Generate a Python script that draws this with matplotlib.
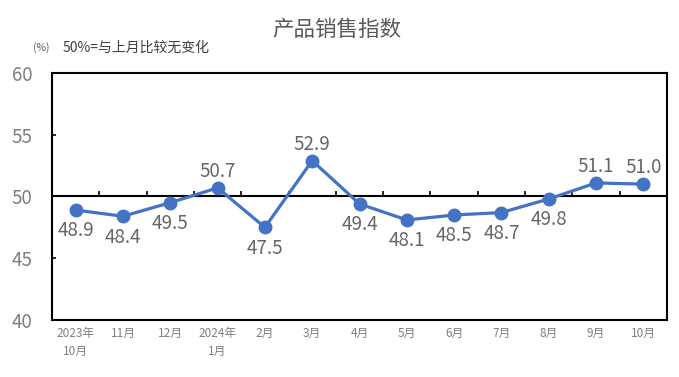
import matplotlib
matplotlib.use("Agg")
import matplotlib.pyplot as plt

plt.rcParams['font.family'] = ['Noto Sans CJK SC', 'DejaVu Sans']

categories = ["2023年\n10月", "11月", "12月", "2024年\n1月", "2月", "3月", "4月",
              "5月", "6月", "7月", "8月", "9月", "10月"]
values = [48.9, 48.4, 49.5, 50.7, 47.5, 52.9, 49.4, 48.1, 48.5, 48.7, 49.8, 51.1, 51.0]
label_above = [False, False, False, True, False, True, False, False, False, False, False, True, True]
yticks = [40, 45, 50, 55, 60]

fig = plt.figure(figsize=(6.79, 3.77), dpi=100)
ax = fig.add_axes([52/679, 1-320/377, 615/679, 247/377])

x = list(range(len(values)))
ax.plot(x, values, color='#4472C4', lw=2.3, marker='o', markersize=9,
        markerfacecolor='#4472C4', markeredgecolor='#4472C4', zorder=3)
ax.axhline(50, color='black', lw=1.5, zorder=2)
# category boundary tick marks on the 50 line
bounds = [i + 0.5 for i in range(len(values) - 1)]
ax.plot(bounds, [50] * len(bounds), linestyle='none', marker=2, markersize=3.5,
        markeredgewidth=1.2, color='black', zorder=2)

for xi, v, up in zip(x, values, label_above):
    if up:
        ax.annotate(f"{v:.1f}", (xi, v), xytext=(0, 12), textcoords='offset points',
                    ha='center', va='center', fontsize=13.5, color='#666666')
    else:
        ax.annotate(f"{v:.1f}", (xi, v), xytext=(0, -15), textcoords='offset points',
                    ha='center', va='center', fontsize=13.5, color='#666666')

ax.set_xlim(-0.5, len(values) - 0.5)
ax.set_ylim(40, 60)
ax.set_yticks(yticks)
ax.set_yticklabels([str(t) for t in yticks], fontsize=13.5, color='#7f7f7f')
ax.set_xticks(x)
ax.set_xticklabels(categories, fontsize=8.5, color='#7f7f7f', linespacing=1.5)
ax.tick_params(axis='y', direction='in', length=3, width=1.2, pad=14)
ax.tick_params(axis='x', length=0, pad=5)
for s in ax.spines.values():
    s.set_color('black')
    s.set_linewidth(1.5)

fig.text(337/679, 1-30/377, "产品销售指数", ha='center', va='center', fontsize=15.5, color='#595959')
fig.text(33/679, 1-48/377, "(%)", ha='left', va='center', fontsize=7.5, color='#595959')
fig.text(63/679, 1-48/377, "50%=与上月比较无变化", ha='left', va='center', fontsize=10, color='#404040')

fig.savefig("out.png", dpi=100)
